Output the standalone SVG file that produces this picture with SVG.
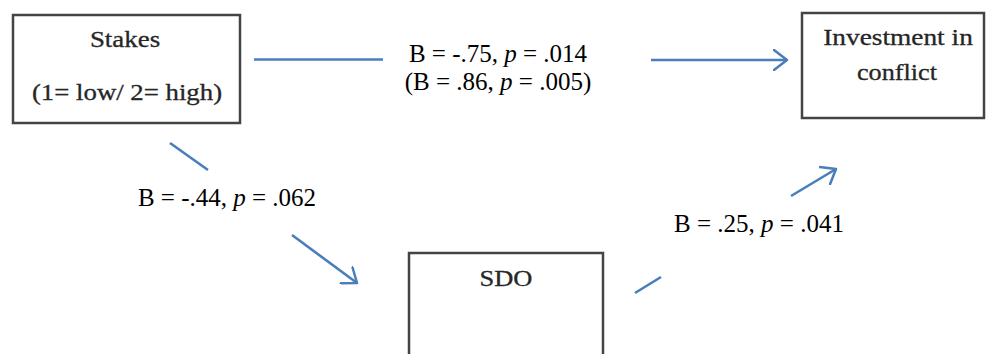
<svg xmlns="http://www.w3.org/2000/svg" width="987" height="354" viewBox="0 0 987 354">
<defs>
<marker id="arr" viewBox="0 0 16 22" refX="14" refY="11" markerWidth="16" markerHeight="22" markerUnits="userSpaceOnUse" orient="auto">
<path d="M1,1 L14,11 L1,21" fill="none" stroke="#4a7ebb" stroke-width="2.5" stroke-linecap="round" stroke-linejoin="round"/>
</marker>
<style>
.box{fill:#fff;stroke:#444;stroke-width:2.5}
.bt{font-family:"Liberation Serif","Times New Roman",serif;font-size:23px;fill:#262626;stroke:#262626;stroke-width:0.3;text-anchor:middle}
.lbl{font-family:"Liberation Serif","Times New Roman",serif;font-size:25px;fill:#000;text-anchor:middle}
.ln{stroke:#4a7ebb;stroke-width:2.6;fill:none;stroke-linecap:butt}
</style>
</defs>
<rect width="987" height="354" fill="#fff"/>
<g id="stakes">
<rect class="box" x="13" y="15" width="227" height="108"/>
<text class="bt" transform="translate(125,47) scale(1.17,1)">Stakes</text>
<text class="bt" transform="translate(127,100) scale(1.165,1)">(1= low/ 2= high)</text>
</g>
<g id="investment">
<rect class="box" x="802" y="13" width="182" height="105"/>
<text class="bt" transform="translate(898,45) scale(1.19,1)">Investment in</text>
<text class="bt" transform="translate(897,80) scale(1.14,1)">conflict</text>
</g>
<g id="sdo">
<rect class="box" x="409" y="253" width="194" height="110"/>
<text class="bt" transform="translate(506,286) scale(1.15,1)">SDO</text>
</g>
<g id="connectors">
<line class="ln" x1="254" y1="59.5" x2="383" y2="59.5"/>
<line class="ln" x1="651" y1="60" x2="787" y2="60" marker-end="url(#arr)"/>
<line class="ln" x1="170" y1="143" x2="208" y2="170"/>
<line class="ln" x1="292" y1="235" x2="357" y2="283" marker-end="url(#arr)"/>
<line class="ln" x1="635" y1="293" x2="661" y2="277"/>
<line class="ln" x1="791" y1="196" x2="836" y2="169" marker-end="url(#arr)"/>
</g>
<g id="labels">
<text class="lbl" x="498" y="62">B = -.75, <tspan font-style="italic">p</tspan> = .014</text>
<text class="lbl" x="498" y="90">(B = .86, <tspan font-style="italic">p</tspan> = .005)</text>
<text class="lbl" x="227" y="206">B = -.44, <tspan font-style="italic">p</tspan> = .062</text>
<text class="lbl" x="759" y="232">B = .25, <tspan font-style="italic">p</tspan> = .041</text>
</g>
</svg>
